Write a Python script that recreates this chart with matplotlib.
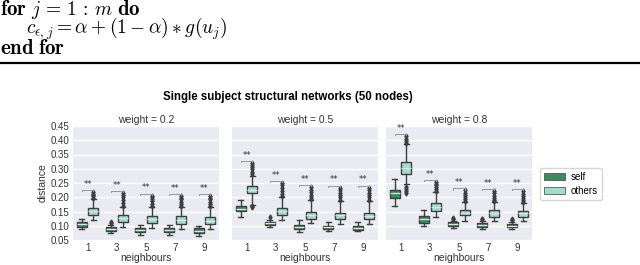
import matplotlib
matplotlib.use("Agg")
import matplotlib.pyplot as plt
from matplotlib.patches import Patch

plt.rcParams['mathtext.fontset'] = 'cm'

neighbours = [1, 3, 5, 7, 9]
weights = [0.2, 0.5, 0.8]
hue_labels = ["self", "others"]

# rows: weight 0.2, 0.5, 0.8 ; columns: neighbours 1,3,5,7,9
self_med = [[0.1045, 0.088, 0.0848, 0.0848, 0.0813],
            [0.160, 0.108, 0.0964, 0.094, 0.093],
            [0.215, 0.123, 0.1056, 0.103, 0.100]]
self_q1 = [[0.0964, 0.0825, 0.079, 0.079, 0.0732],
           [0.152, 0.102, 0.088, 0.087, 0.0848],
           [0.198, 0.111, 0.0987, 0.096, 0.094]]
self_q3 = [[0.1138, 0.094, 0.0906, 0.0906, 0.0906],
           [0.168, 0.1138, 0.102, 0.0999, 0.0987],
           [0.227, 0.1335, 0.1126, 0.110, 0.106]]
self_lo = [[0.087, 0.073, 0.0674, 0.066, 0.064],
           [0.131, 0.0964, 0.079, 0.0825, 0.081],
           [0.169, 0.100, 0.0906, 0.089, 0.087]]
self_hi = [[0.125, 0.104, 0.102, 0.101, 0.0987],
           [0.189, 0.120, 0.120, 0.114, 0.113],
           [0.2645, 0.154, 0.118, 0.116, 0.113]]
self_fliers = [[[], [0.110, 0.114], [], [], []],
               [[], [0.131], [], [], []],
               [[], [], [0.125, 0.128], [0.122, 0.125], [0.119, 0.122]]]

others_med = [[0.152, 0.128, 0.122, 0.1196, 0.117],
              [0.227, 0.152, 0.137, 0.136, 0.135],
              [0.3016, 0.166, 0.145, 0.143, 0.143]]
others_q1 = [[0.139, 0.114, 0.108, 0.1056, 0.1056],
             [0.2146, 0.139, 0.125, 0.122, 0.122],
             [0.282, 0.152, 0.136, 0.131, 0.131]]
others_q3 = [[0.1625, 0.139, 0.1335, 0.1335, 0.131],
             [0.241, 0.1625, 0.1486, 0.145, 0.145],
             [0.322, 0.180, 0.157, 0.154, 0.152]]
others_lo = [[0.120, 0.094, 0.0906, 0.089, 0.089],
             [0.172, 0.120, 0.108, 0.106, 0.105],
             [0.245, 0.131, 0.117, 0.115, 0.115]]
others_hi = [[0.195, 0.166, 0.166, 0.165, 0.165],
             [0.276, 0.200, 0.189, 0.188, 0.188],
             [0.386, 0.218, 0.183, 0.182, 0.181]]
others_fliers = [[[0.198, 0.203, 0.208, 0.213, 0.218],
                  [0.170, 0.180, 0.190, 0.200, 0.208, 0.215],
                  [0.170, 0.178, 0.186, 0.194, 0.200, 0.206],
                  [0.169, 0.177, 0.185, 0.193, 0.199, 0.205],
                  [0.169, 0.177, 0.185, 0.193, 0.199, 0.205]],
                 [[0.166, 0.169, 0.282, 0.290, 0.298, 0.306, 0.313, 0.319],
                  [0.205, 0.213, 0.222, 0.232, 0.242, 0.250],
                  [0.193, 0.201, 0.209, 0.217, 0.226, 0.235],
                  [0.192, 0.200, 0.208, 0.216, 0.225, 0.234],
                  [0.192, 0.200, 0.208, 0.216, 0.225, 0.234]],
                 [[0.214, 0.222, 0.228, 0.236, 0.392, 0.398, 0.405, 0.415],
                  [0.222, 0.228, 0.235, 0.242, 0.248, 0.253],
                  [0.187, 0.193, 0.200, 0.207, 0.215, 0.224],
                  [0.186, 0.192, 0.199, 0.206, 0.214, 0.222],
                  [0.185, 0.191, 0.198, 0.205, 0.213, 0.221]]]
significance = [["**"] * 5, ["**"] * 5, ["**"] * 5]

self_color = "#3a8c60"
others_color = "#a3dccb"
edge_color = "#3f3f3f"

W, H = 640, 265
fig = plt.figure(figsize=(6.4, 2.65), dpi=100)

# algorithm snippet at top
fb, fm = 15, 14
def ftext(x, y, s, size):
    fig.text(x / W, 1 - y / H, s, fontsize=size, va='baseline', ha='left')
ftext(0, 15, r"$\mathbf{for}$", fb)
ftext(31, 15, r"$j \,=\, 1 \,:\, m$", fm)
ftext(117, 15, r"$\mathbf{do}$", fb)
ftext(26, 34, r"$c_{\epsilon,j} = \alpha + (1-\alpha) * g(u_j)$", fm)
ftext(0, 54, r"$\mathbf{end}$", fb)
ftext(38, 54, r"$\mathbf{for}$", fb)
fig.add_artist(plt.Line2D([0, 1], [1 - 62.5 / H, 1 - 62.5 / H], transform=fig.transFigure,
                          color='black', lw=1.6))

fig.text(288 / W, 1 - 97 / H, "Single subject structural networks (50 nodes)",
         fontsize=8.3, fontweight='bold', ha='center', va='center', family='Liberation Sans')

lefts = [73, 232, 386]
ax_w = 146
top_px, bot_px = 126, 240
axes = []
for i, w in enumerate(weights):
    ax = fig.add_axes([lefts[i] / W, 1 - bot_px / H, ax_w / W, (bot_px - top_px) / H])
    axes.append(ax)
    ax.set_facecolor("#EAEAF2")
    ax.set_axisbelow(True)
    ax.grid(axis='y', color='white', lw=1.0)
    for s in ax.spines.values():
        s.set_visible(False)

    xs = list(range(len(neighbours)))
    def stats(med, q1, q3, lo, hi, fl):
        return [dict(med=med[k], q1=q1[k], q3=q3[k], whislo=lo[k], whishi=hi[k],
                     fliers=fl[k]) for k in range(len(neighbours))]
    st_self = stats(self_med[i], self_q1[i], self_q3[i], self_lo[i], self_hi[i], self_fliers[i])
    st_oth = stats(others_med[i], others_q1[i], others_q3[i], others_lo[i], others_hi[i], others_fliers[i])
    common = dict(widths=0.34, patch_artist=True, manage_ticks=False,
                  medianprops=dict(color='#d8e8e0', lw=0.9),
                  whiskerprops=dict(color=edge_color, lw=1.0),
                  capprops=dict(color=edge_color, lw=1.0),
                  flierprops=dict(marker='d', markersize=2.5, markerfacecolor=edge_color,
                                  markeredgecolor=edge_color))
    ax.bxp(st_self, positions=[x - 0.2 for x in xs],
           boxprops=dict(facecolor=self_color, edgecolor=edge_color, lw=1.0), **common)
    ax.bxp(st_oth, positions=[x + 0.2 for x in xs],
           boxprops=dict(facecolor=others_color, edgecolor=edge_color, lw=1.0), **common)

    # significance brackets
    for k in xs:
        top = max([others_hi[i][k]] + others_fliers[i][k] + [self_hi[i][k]])
        yb = top + 0.007
        ax.plot([k - 0.2, k - 0.2, k + 0.2, k + 0.2], [yb - 0.004, yb, yb, yb - 0.004],
                color='#999999', lw=0.7, clip_on=False)
        ax.text(k, yb + 0.004, significance[i][k], ha='center', va='bottom', fontsize=6,
                color='#333333', clip_on=False)

    ax.set_xlim(-0.5, len(neighbours) - 0.5)
    ax.set_ylim(0.05, 0.45)
    ax.set_xticks(xs)
    ax.set_xticklabels([str(n) for n in neighbours])
    ax.set_yticks([0.05, 0.10, 0.15, 0.20, 0.25, 0.30, 0.35, 0.40, 0.45])
    ax.tick_params(length=0, labelsize=7, pad=2.5, colors='#333333')
    ax.set_xlabel("neighbours", fontsize=7.5, labelpad=0, color='#333333')
    ax.set_title(f"weight = {w}", fontsize=7.5, pad=2, color='#333333')
    if i == 0:
        ax.set_yticklabels([f"{v:.2f}" for v in ax.get_yticks()])
        ax.set_ylabel("distance", fontsize=7.5, labelpad=2, color='#333333')
    else:
        ax.set_yticklabels([])

for ax in axes:
    for lab in ax.get_xticklabels() + ax.get_yticklabels():
        lab.set_family('Liberation Sans')
    ax.xaxis.label.set_family('Liberation Sans')
    ax.yaxis.label.set_family('Liberation Sans')
    ax.title.set_family('Liberation Sans')

handles = [Patch(facecolor=self_color, edgecolor=edge_color, lw=0.5, label=hue_labels[0]),
           Patch(facecolor=others_color, edgecolor=edge_color, lw=0.5, label=hue_labels[1])]
fig.legend(handles=handles, loc='upper left', bbox_to_anchor=(540 / W, 1 - 168 / H),
           frameon=True, handlelength=2.2, handleheight=0.8,
           borderpad=0.4, labelspacing=0.4, handletextpad=0.6, borderaxespad=0,
           prop={'family': 'Liberation Sans', 'size': 7})

fig.savefig("out.png", dpi=100)
